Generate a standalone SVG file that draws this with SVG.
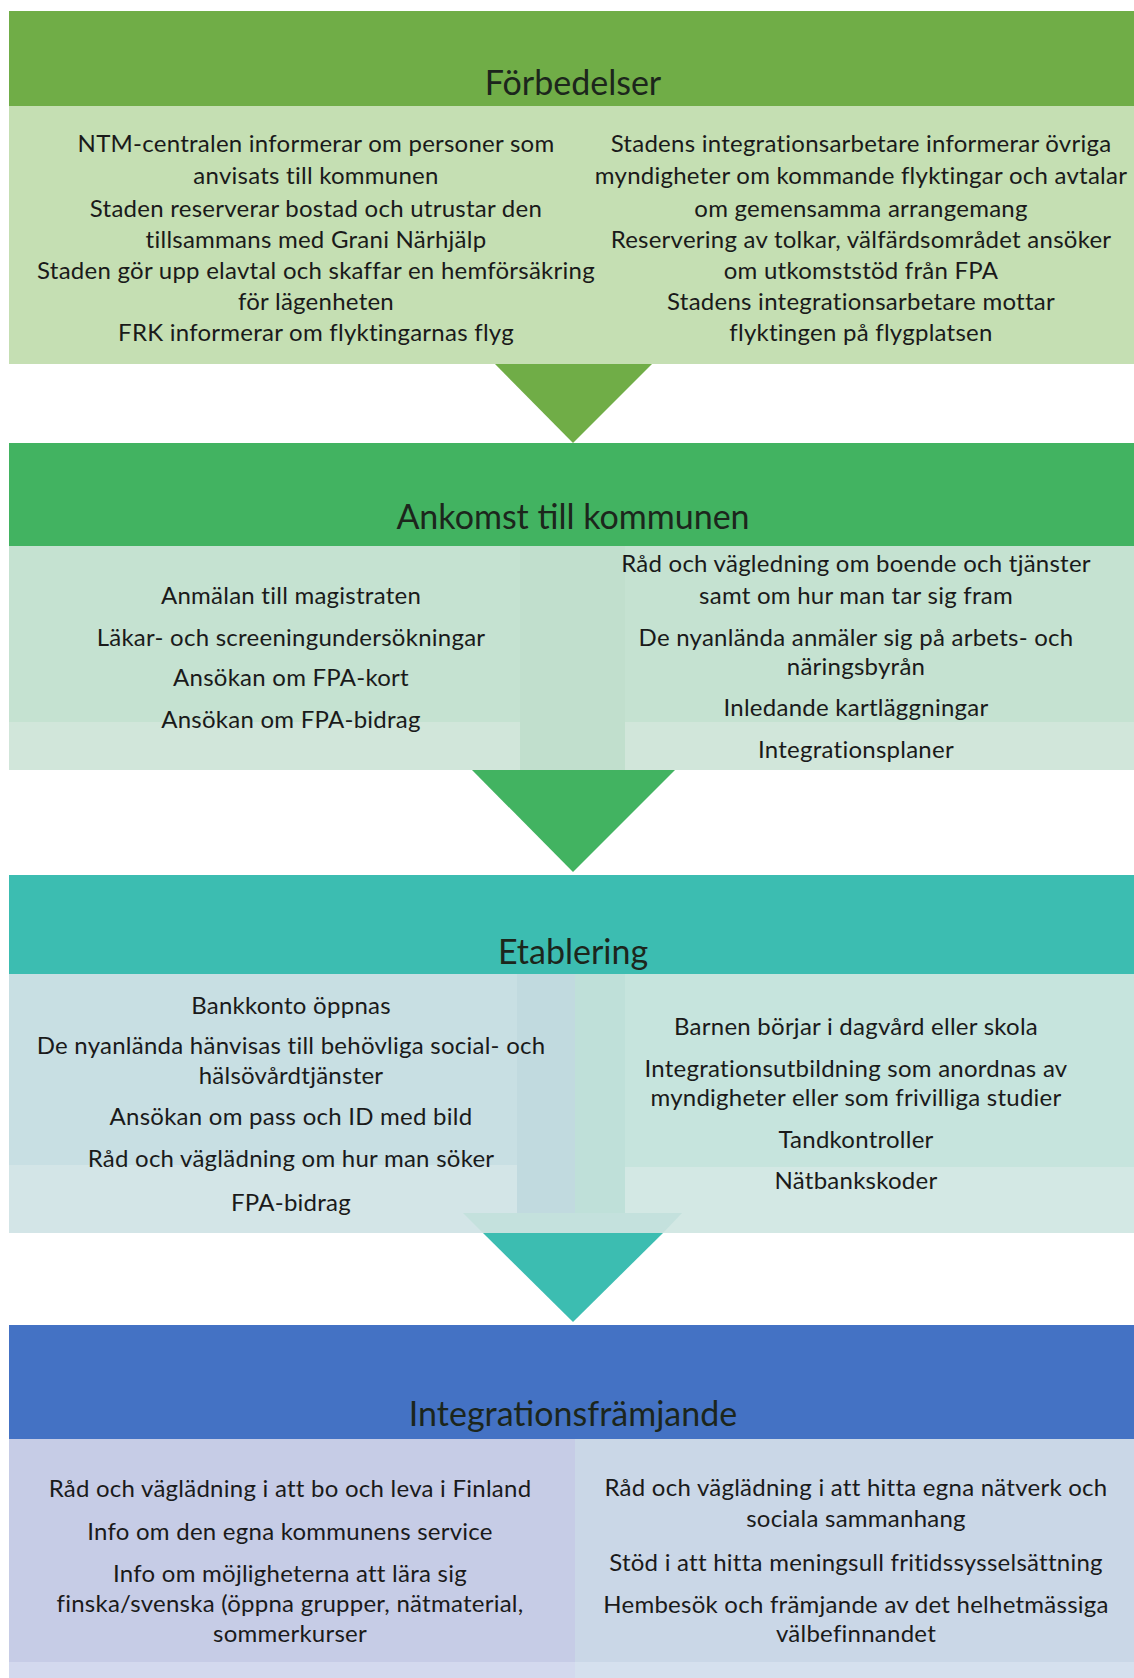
<svg xmlns="http://www.w3.org/2000/svg" width="1134" height="1678" viewBox="0 0 1134 1678">
<style>
.h{font-family:Lato,"Liberation Sans",sans-serif;font-size:34px;fill:#1c261c;text-anchor:middle}
.t{font-family:Lato,"Liberation Sans",sans-serif;font-size:24px;letter-spacing:0.25px;fill:#1a1a1a;text-anchor:middle}
</style>
<rect width="1134" height="1678" fill="#ffffff"/>
<g id="connectors">
<polygon points="495,364 652,364 573,443" fill="#70ad47"/>
<polygon points="472,770 675,770 573,872" fill="#42b361"/>
<polygon points="483,1233 663,1233 573,1322" fill="#3cbdb1"/>
</g>
<g id="forbedelser">
<rect x="9" y="11" width="1125" height="95" fill="#70ad47"/>
<rect x="9" y="106" width="1125" height="258" fill="#c5dfb3"/>
<text class="h" x="573" y="95">Förbedelser</text>
<text class="t" x="316" y="152">NTM-centralen informerar om personer som</text>
<text class="t" x="316" y="184">anvisats till kommunen</text>
<text class="t" x="316" y="217">Staden reserverar bostad och utrustar den</text>
<text class="t" x="316" y="248">tillsammans med Grani Närhjälp</text>
<text class="t" x="316" y="279">Staden gör upp elavtal och skaffar en hemförsäkring</text>
<text class="t" x="316" y="310">för lägenheten</text>
<text class="t" x="316" y="341">FRK informerar om flyktingarnas flyg</text>
<text class="t" x="861" y="152">Stadens integrationsarbetare informerar övriga</text>
<text class="t" x="861" y="184">myndigheter om kommande flyktingar och avtalar</text>
<text class="t" x="861" y="217">om gemensamma arrangemang</text>
<text class="t" x="861" y="248">Reservering av tolkar, välfärdsområdet ansöker</text>
<text class="t" x="861" y="279">om utkomststöd från FPA</text>
<text class="t" x="861" y="310">Stadens integrationsarbetare mottar</text>
<text class="t" x="861" y="341">flyktingen på flygplatsen</text>
</g>
<g id="ankomst">
<rect x="9" y="443" width="1125" height="103" fill="#42b361"/>
<rect x="9" y="546" width="1125" height="224" fill="#c5e2d1"/>
<rect x="520" y="546" width="105" height="224" fill="#c1dfcd"/>
<rect x="9" y="722" width="511" height="48" fill="#d1e6da"/>
<rect x="625" y="722" width="509" height="48" fill="#d1e6da"/>
<text class="h" x="573" y="529">Ankomst till kommunen</text>
<text class="t" x="291" y="604">Anmälan till magistraten</text>
<text class="t" x="291" y="646">Läkar- och screeningundersökningar</text>
<text class="t" x="291" y="686">Ansökan om FPA-kort</text>
<text class="t" x="291" y="728">Ansökan om FPA-bidrag</text>
<text class="t" x="856" y="572">Råd och vägledning om boende och tjänster</text>
<text class="t" x="856" y="604">samt om hur man tar sig fram</text>
<text class="t" x="856" y="646">De nyanlända anmäler sig på arbets- och</text>
<text class="t" x="856" y="675">näringsbyrån</text>
<text class="t" x="856" y="716">Inledande kartläggningar</text>
<text class="t" x="856" y="758">Integrationsplaner</text>
</g>
<g id="etablering">
<rect x="9" y="875" width="1125" height="99" fill="#3cbdb1"/>
<rect x="9" y="974" width="566" height="259" fill="#c8dfe3"/>
<rect x="575" y="974" width="559" height="259" fill="#c6e4dd"/>
<rect x="517" y="974" width="58" height="259" fill="#c1dadf"/>
<rect x="575" y="974" width="50" height="259" fill="#bfe0d9"/>
<rect x="9" y="1165" width="508" height="68" fill="#d3e5e7"/>
<rect x="625" y="1167" width="509" height="66" fill="#d3e8e4"/>
<polygon points="463,1213 682,1213 663,1233 483,1233" fill="#c4e1dd"/>
<text class="h" x="573" y="964">Etablering</text>
<text class="t" x="291" y="1014">Bankkonto öppnas</text>
<text class="t" x="291" y="1054">De nyanlända hänvisas till behövliga social- och</text>
<text class="t" x="291" y="1084">hälsövårdtjänster</text>
<text class="t" x="291" y="1125">Ansökan om pass och ID med bild</text>
<text class="t" x="291" y="1167">Råd och väglädning om hur man söker</text>
<text class="t" x="291" y="1211">FPA-bidrag</text>
<text class="t" x="856" y="1035">Barnen börjar i dagvård eller skola</text>
<text class="t" x="856" y="1077">Integrationsutbildning som anordnas av</text>
<text class="t" x="856" y="1106">myndigheter eller som frivilliga studier</text>
<text class="t" x="856" y="1148">Tandkontroller</text>
<text class="t" x="856" y="1189">Nätbankskoder</text>
</g>
<g id="integrationsframjande">
<rect x="9" y="1325" width="1125" height="114" fill="#4472c4"/>
<rect x="9" y="1439" width="566" height="223" fill="#c6cce6"/>
<rect x="575" y="1439" width="559" height="223" fill="#cad7e7"/>
<rect x="9" y="1662" width="566" height="16" fill="#d3d9ee"/>
<rect x="575" y="1662" width="559" height="16" fill="#d5e0ee"/>
<text class="h" x="573" y="1426">Integrationsfrämjande</text>
<text class="t" x="290" y="1497">Råd och väglädning i att bo och leva i Finland</text>
<text class="t" x="290" y="1540">Info om den egna kommunens service</text>
<text class="t" x="290" y="1582">Info om möjligheterna att lära sig</text>
<text class="t" x="290" y="1612">finska/svenska (öppna grupper, nätmaterial,</text>
<text class="t" x="290" y="1642">sommerkurser</text>
<text class="t" x="856" y="1496">Råd och väglädning i att hitta egna nätverk och</text>
<text class="t" x="856" y="1527">sociala sammanhang</text>
<text class="t" x="856" y="1571">Stöd i att hitta meningsull fritidssysselsättning</text>
<text class="t" x="856" y="1613">Hembesök och främjande av det helhetmässiga</text>
<text class="t" x="856" y="1642">välbefinnandet</text>
</g>
</svg>
